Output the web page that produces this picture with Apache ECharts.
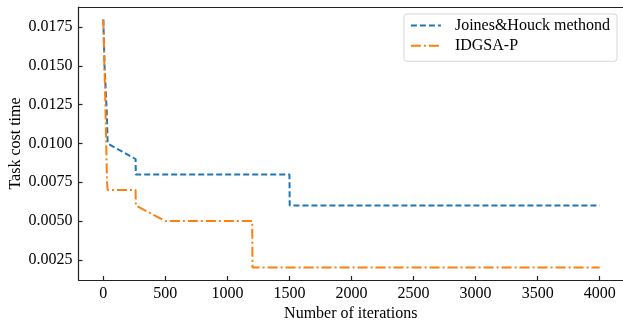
<!DOCTYPE html>
<html>
<head>
<meta charset="utf-8">
<script src="https://cdn.jsdelivr.net/npm/echarts@6/dist/echarts.min.js"></script>
<style>
html,body{margin:0;padding:0;background:#fff;}
#c{width:623px;height:324px;}
</style>
</head>
<body>
<div id="c"></div>
<script>
var seriesNames = ['Joines&Houck methond', 'IDGSA-P'];
var jhX = [0, 10, 28, 35, 260, 262, 1500, 1502, 4000];
var jhY = [0.018, 0.015, 0.012, 0.010, 0.009, 0.008, 0.008, 0.006, 0.006];
var idX = [0, 18, 30, 35, 260, 262, 500, 1200, 1202, 4000];
var idY = [0.018, 0.012, 0.0075, 0.007, 0.007, 0.006, 0.005, 0.005, 0.002, 0.002];
var xTicks = [0, 500, 1000, 1500, 2000, 2500, 3000, 3500, 4000];
var yTicks = [0.0025, 0.0050, 0.0075, 0.0100, 0.0125, 0.0150, 0.0175];

function pairs(xs, ys) { return xs.map(function (x, i) { return [x, ys[i]]; }); }

var font = 'Liberation Serif';
var chart = echarts.init(document.getElementById('c'), null, {renderer: 'canvas'});
chart.setOption({
  animation: false,
  backgroundColor: '#fff',
  grid: {left: 78.5, right: 0, top: 7, bottom: 44, containLabel: false, outerBoundsMode: 'none'},
  legend: {
    orient: 'vertical',
    right: 6, top: 14,
    padding: [3.5, 7, 7.5, 6],
    itemWidth: 30, itemHeight: 18, itemGap: 4.3,
    backgroundColor: '#fff',
    borderColor: '#d6d6d6', borderWidth: 1, borderRadius: 3,
    itemStyle: {opacity: 0},
    textStyle: {fontFamily: font, fontSize: 16, color: '#000', padding: [0, 0, 0, 9]},
    data: seriesNames
  },
  xAxis: [{
    type: 'value', min: -200, max: 4188,
    name: 'Number of iterations', nameLocation: 'middle', nameGap: 26, nameMoveOverlap: false,
    nameTextStyle: {fontFamily: font, fontSize: 16, color: '#000'},
    axisLine: {show: true, lineStyle: {color: '#222', width: 1.2}},
    axisTick: {show: true, inside: true, length: 4, lineStyle: {color: '#222', width: 1.2}, customValues: xTicks},
    axisLabel: {fontFamily: font, fontSize: 16, color: '#000', margin: 6, customValues: xTicks,
      formatter: function (v) { return String(v); }},
    splitLine: {show: false}
  }, {
    type: 'value', position: 'top', min: -200, max: 4188,
    axisLine: {show: true, onZero: false, lineStyle: {color: '#222', width: 1.2}},
    axisTick: {show: false}, axisLabel: {show: false}, splitLine: {show: false}
  }],
  yAxis: {
    type: 'value', min: 0.0012, max: 0.0188,
    name: 'Task cost time', nameLocation: 'middle', nameGap: 55, nameMoveOverlap: false,
    nameTextStyle: {fontFamily: font, fontSize: 16, color: '#000'},
    axisLine: {show: true, onZero: false, lineStyle: {color: '#222', width: 1.2}},
    axisTick: {show: true, inside: true, length: 4, lineStyle: {color: '#222', width: 1.2}, customValues: yTicks},
    axisLabel: {fontFamily: font, fontSize: 16, color: '#000', margin: 6, customValues: yTicks,
      formatter: function (v) { return v.toFixed(4); }},
    splitLine: {show: false}
  },
  series: [{
    name: seriesNames[0], type: 'line', symbol: 'none', xAxisIndex: 0,
    data: pairs(jhX, jhY),
    lineStyle: {color: '#1f77b4', width: 2, type: [6, 3]},
    itemStyle: {color: '#1f77b4'}
  }, {
    name: seriesNames[1], type: 'line', symbol: 'none', xAxisIndex: 0,
    data: pairs(idX, idY),
    lineStyle: {color: '#ff7f0e', width: 2, type: [10, 3, 2, 3]},
    itemStyle: {color: '#ff7f0e'}
  }]
});
</script>
</body>
</html>
